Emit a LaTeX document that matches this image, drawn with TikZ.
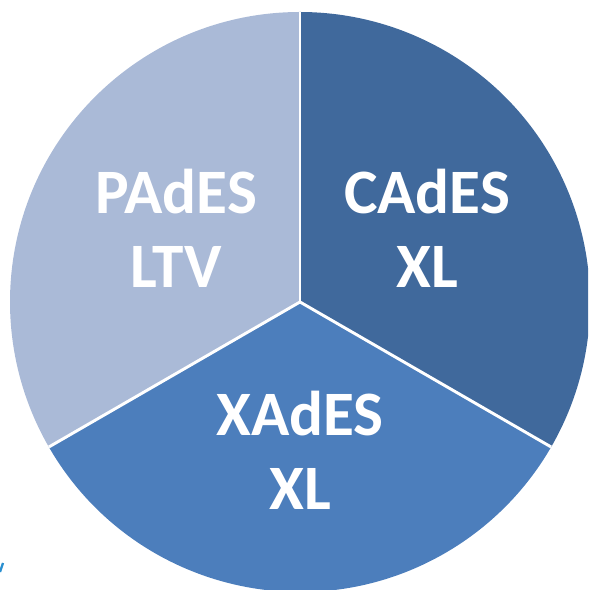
\documentclass[tikz,border=0pt]{standalone}
\usepackage{fontspec}
\setmainfont{Carlito}
\usetikzlibrary{positioning, calc}
\definecolor{padesfill}{HTML}{AABAD7}
\definecolor{cadesfill}{HTML}{40699C}
\definecolor{xadesfill}{HTML}{4C7EBC}
\definecolor{tickblue}{HTML}{2A8FD0}
\tikzset{
  label text/.style={text=white, align=center, font=\fontsize{54}{63}\selectfont\bfseries},
  divider/.style={white, line width=2.5pt}
}
\begin{document}
\begin{tikzpicture}[x=0.03cm, y=0.03cm]
    \useasboundingbox (0,0) rectangle (588,590);
    \clip (0,0) rectangle (588,590);
    \coordinate (c) at (300,288);
    % the three slices
    \foreach \col/\a/\b in {padesfill/90/210, cadesfill/-30/90, xadesfill/210/330} {
        \fill[\col] (c) -- ++(\a:290) arc[start angle=\a, end angle=\b, radius=290] -- cycle;
    }
    \coordinate (top) at ($(c)+(90:290)$);
    \coordinate (right) at ($(c)+(-30:290)$);
    \coordinate (left) at ($(c)+(210:290)$);
    \draw[divider] (c) -- (top);
    \draw[divider] (c) -- (right);
    \draw[divider] (c) -- (left);
    % labels
    \node[label text] (pades) at (176,362) {PAdES\\LTV};
    \node[label text] (cades) at (427,362) {CAdES\\XL};
    \node[label text] (xades) at (300,140) {XAdES\\XL};
    \draw[tickblue, line width=2pt] (0,18) -- (3,27);
\end{tikzpicture}
\end{document}
